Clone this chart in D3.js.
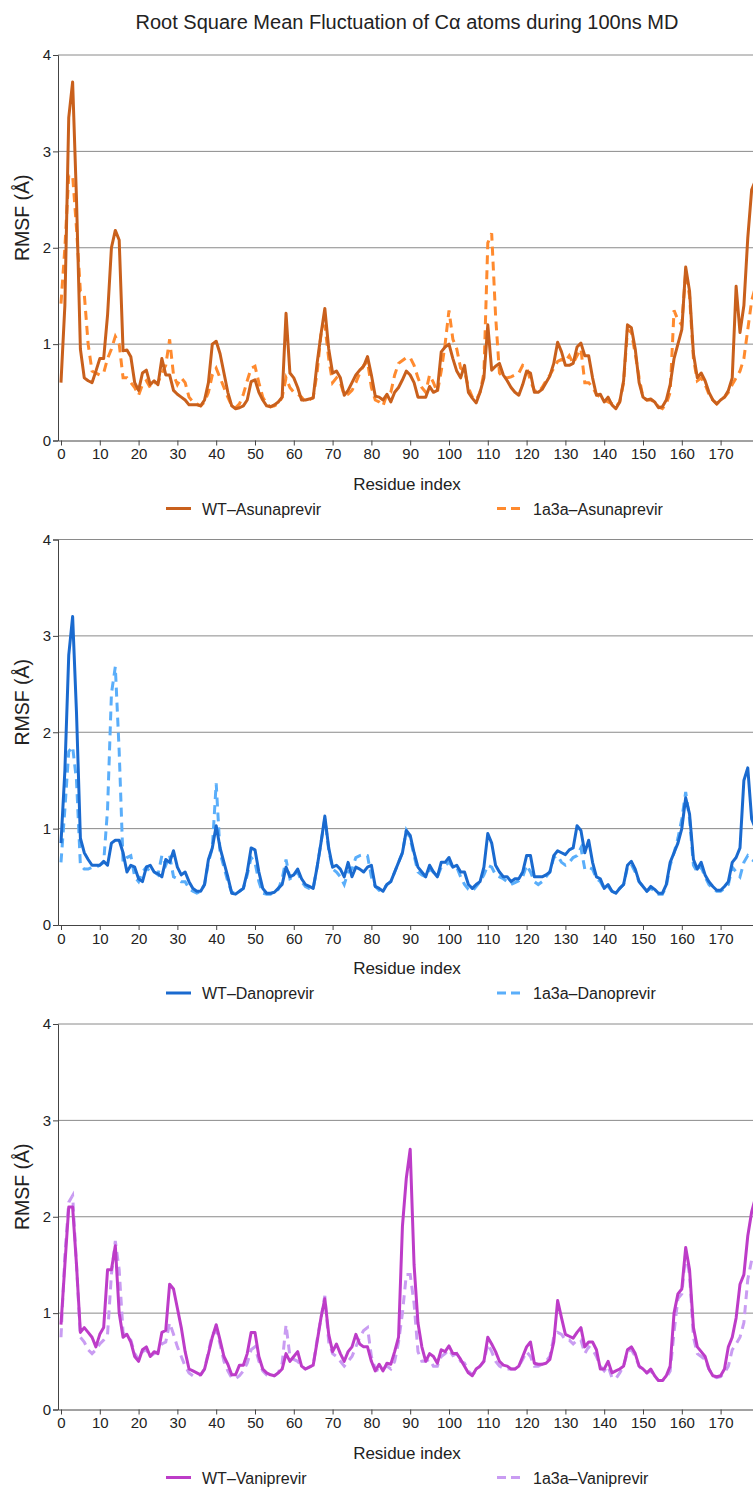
<!DOCTYPE html>
<html>
<head>
<meta charset="utf-8">
<script src="https://cdn.jsdelivr.net/npm/d3@7"></script>
<style>
  body { margin: 0; background: #fff; }
  svg { display: block; font-family: "Liberation Sans", Arial, sans-serif; }
</style>
</head>
<body>
<svg id="chart" width="753" height="1488"></svg>
<script>

// residue values (index 0..179)
var asunWT = [0.60,1.40,3.35,3.72,2.50,0.95,0.65,0.62,0.60,0.72,0.85,0.85,1.30,2.00,2.18,2.08,0.93,0.94,0.87,0.60,
  0.52,0.70,0.73,0.58,0.62,0.58,0.85,0.68,0.68,0.52,0.48,0.45,0.42,0.37,0.37,0.37,0.36,0.42,0.60,1.00,
  1.03,0.90,0.70,0.50,0.36,0.33,0.34,0.36,0.42,0.61,0.63,0.50,0.42,0.36,0.35,0.37,0.40,0.45,1.32,0.70,
  0.65,0.55,0.42,0.42,0.43,0.44,0.80,1.10,1.37,0.95,0.70,0.72,0.65,0.47,0.52,0.60,0.68,0.73,0.77,0.87,
  0.68,0.46,0.45,0.42,0.48,0.40,0.50,0.55,0.63,0.72,0.68,0.60,0.45,0.45,0.45,0.56,0.50,0.52,0.92,0.97,
  1.00,0.85,0.72,0.65,0.78,0.50,0.44,0.39,0.50,0.65,1.20,0.73,0.77,0.80,0.68,0.62,0.55,0.50,0.47,0.58,
  0.72,0.70,0.50,0.50,0.53,0.60,0.67,0.80,1.02,0.92,0.78,0.78,0.80,0.97,1.01,0.88,0.88,0.65,0.47,0.48,
  0.40,0.45,0.37,0.33,0.40,0.62,1.20,1.17,0.95,0.60,0.45,0.42,0.43,0.40,0.34,0.35,0.42,0.58,0.85,1.00,
  1.15,1.80,1.55,0.90,0.65,0.70,0.62,0.50,0.42,0.38,0.42,0.45,0.52,0.65,1.60,1.12,1.40,2.10,2.60,2.70];
var asun1a3a = [1.42,2.00,2.75,2.75,2.20,1.55,1.52,1.00,0.72,0.70,0.68,0.70,0.85,0.95,1.08,1.00,0.65,0.65,0.60,0.55,
  0.47,0.58,0.62,0.55,0.60,0.60,0.70,0.78,1.05,0.68,0.58,0.65,0.60,0.45,0.40,0.38,0.36,0.40,0.50,0.68,
  0.75,0.65,0.55,0.45,0.36,0.34,0.38,0.48,0.62,0.75,0.77,0.60,0.45,0.38,0.35,0.36,0.38,0.45,0.65,0.55,
  0.50,0.48,0.45,0.40,0.42,0.45,0.70,1.10,1.20,0.85,0.60,0.65,0.60,0.47,0.48,0.52,0.60,0.70,0.78,0.82,
  0.55,0.42,0.40,0.36,0.48,0.50,0.68,0.80,0.83,0.86,0.86,0.78,0.65,0.55,0.50,0.68,0.60,0.50,0.72,1.00,
  1.35,1.05,0.95,0.75,0.72,0.55,0.45,0.42,0.50,0.70,2.05,2.15,1.30,0.70,0.65,0.65,0.66,0.68,0.70,0.78,
  0.76,0.62,0.52,0.50,0.55,0.62,0.68,0.75,0.82,0.84,0.82,0.88,0.80,0.88,0.95,0.60,0.60,0.55,0.48,0.45,
  0.42,0.40,0.38,0.35,0.40,0.60,1.15,1.12,0.90,0.65,0.45,0.42,0.42,0.40,0.35,0.33,0.38,0.50,1.35,1.25,
  1.20,1.75,1.50,0.85,0.62,0.65,0.58,0.48,0.42,0.38,0.42,0.45,0.50,0.58,0.65,0.72,0.85,1.15,1.45,1.60];

var danoWT = [0.85,1.60,2.80,3.20,2.20,0.90,0.75,0.68,0.62,0.62,0.62,0.66,0.62,0.85,0.88,0.88,0.75,0.55,0.62,0.60,
  0.48,0.45,0.60,0.62,0.55,0.53,0.50,0.68,0.65,0.77,0.60,0.52,0.55,0.45,0.38,0.35,0.35,0.42,0.68,0.80,
  1.03,0.80,0.65,0.50,0.33,0.32,0.35,0.38,0.55,0.80,0.78,0.55,0.38,0.33,0.33,0.34,0.38,0.42,0.60,0.50,
  0.52,0.58,0.48,0.42,0.40,0.38,0.60,0.85,1.13,0.80,0.60,0.62,0.58,0.50,0.65,0.50,0.60,0.58,0.55,0.60,
  0.62,0.40,0.38,0.35,0.42,0.45,0.55,0.65,0.75,0.98,0.93,0.75,0.60,0.55,0.50,0.62,0.55,0.50,0.65,0.65,
  0.70,0.60,0.62,0.55,0.55,0.42,0.38,0.42,0.45,0.60,0.95,0.85,0.62,0.55,0.50,0.50,0.45,0.48,0.48,0.55,
  0.72,0.72,0.50,0.50,0.50,0.52,0.55,0.72,0.77,0.75,0.73,0.78,0.80,1.03,0.98,0.75,0.88,0.65,0.50,0.48,
  0.38,0.42,0.35,0.33,0.38,0.42,0.62,0.66,0.58,0.45,0.40,0.35,0.40,0.37,0.33,0.33,0.42,0.65,0.75,0.85,
  1.00,1.32,1.15,0.68,0.58,0.65,0.52,0.45,0.40,0.36,0.36,0.40,0.45,0.65,0.70,0.80,1.50,1.63,1.10,1.00];
var dano1a3a = [0.65,1.20,1.80,1.85,1.50,0.62,0.58,0.58,0.60,0.60,0.62,0.65,1.20,2.40,2.68,1.80,0.65,0.70,0.72,0.50,
  0.45,0.55,0.60,0.55,0.55,0.52,0.72,0.62,0.72,0.50,0.48,0.45,0.45,0.38,0.35,0.33,0.35,0.42,0.65,0.80,
  1.47,0.75,0.60,0.45,0.34,0.33,0.35,0.38,0.52,0.70,0.65,0.45,0.33,0.32,0.32,0.34,0.37,0.48,0.68,0.48,
  0.50,0.55,0.45,0.40,0.38,0.38,0.60,0.85,1.10,0.78,0.58,0.55,0.50,0.42,0.55,0.58,0.70,0.72,0.73,0.72,
  0.50,0.40,0.36,0.37,0.42,0.45,0.55,0.65,0.75,0.98,0.90,0.72,0.55,0.52,0.50,0.58,0.55,0.50,0.60,0.62,
  0.65,0.60,0.60,0.50,0.42,0.37,0.35,0.40,0.45,0.52,0.62,0.60,0.52,0.50,0.48,0.45,0.42,0.44,0.46,0.50,
  0.62,0.55,0.45,0.42,0.45,0.50,0.55,0.70,0.72,0.65,0.62,0.65,0.70,0.72,0.80,0.58,0.60,0.58,0.48,0.45,
  0.38,0.40,0.35,0.33,0.38,0.42,0.60,0.63,0.55,0.45,0.40,0.35,0.38,0.35,0.32,0.32,0.40,0.62,0.75,0.90,
  1.10,1.38,1.10,0.62,0.55,0.60,0.50,0.42,0.38,0.35,0.35,0.38,0.42,0.60,0.55,0.50,0.65,0.72,0.68,0.65];

var vaniWT = [0.88,1.50,2.10,2.10,1.50,0.80,0.85,0.80,0.75,0.65,0.78,0.85,1.45,1.45,1.70,1.00,0.75,0.78,0.70,0.55,
  0.50,0.62,0.65,0.55,0.60,0.58,0.80,0.82,1.30,1.25,1.05,0.85,0.60,0.42,0.40,0.38,0.36,0.42,0.58,0.75,
  0.88,0.72,0.55,0.47,0.36,0.36,0.46,0.46,0.58,0.80,0.80,0.55,0.42,0.38,0.36,0.35,0.38,0.42,0.58,0.50,
  0.55,0.60,0.45,0.42,0.44,0.46,0.70,0.95,1.15,0.78,0.60,0.68,0.58,0.50,0.60,0.65,0.78,0.68,0.65,0.65,
  0.50,0.40,0.47,0.40,0.48,0.47,0.60,0.75,1.90,2.40,2.70,1.50,0.90,0.65,0.50,0.58,0.55,0.48,0.62,0.60,
  0.66,0.58,0.58,0.52,0.45,0.38,0.35,0.42,0.45,0.50,0.75,0.68,0.60,0.50,0.46,0.45,0.42,0.42,0.45,0.55,
  0.65,0.70,0.48,0.47,0.47,0.48,0.52,0.70,1.13,0.95,0.78,0.76,0.74,0.80,0.85,0.65,0.70,0.70,0.62,0.42,
  0.42,0.50,0.38,0.40,0.42,0.45,0.62,0.65,0.58,0.45,0.42,0.38,0.42,0.35,0.30,0.30,0.35,0.45,1.00,1.20,
  1.25,1.68,1.45,0.85,0.65,0.60,0.55,0.42,0.35,0.34,0.35,0.42,0.65,0.75,0.95,1.30,1.40,1.80,2.05,2.20];
var vani1a3a = [0.75,1.60,2.15,2.22,1.50,0.75,0.70,0.62,0.58,0.62,0.68,0.72,0.78,1.40,1.75,1.45,0.80,0.75,0.72,0.58,
  0.52,0.60,0.62,0.55,0.58,0.60,0.68,0.70,0.90,0.78,0.65,0.55,0.45,0.38,0.35,0.35,0.36,0.42,0.60,0.78,
  0.82,0.68,0.50,0.40,0.33,0.32,0.35,0.40,0.48,0.62,0.65,0.50,0.40,0.36,0.35,0.35,0.38,0.48,0.88,0.55,
  0.52,0.50,0.45,0.42,0.44,0.46,0.72,0.95,1.18,0.70,0.58,0.55,0.50,0.45,0.50,0.55,0.65,0.75,0.82,0.85,
  0.55,0.42,0.40,0.42,0.45,0.42,0.50,0.70,1.00,1.40,1.40,1.10,0.60,0.50,0.50,0.52,0.45,0.45,0.55,0.58,
  0.62,0.56,0.58,0.50,0.48,0.40,0.36,0.40,0.45,0.50,0.68,0.60,0.50,0.45,0.43,0.42,0.42,0.42,0.45,0.52,
  0.60,0.55,0.45,0.45,0.47,0.50,0.55,0.75,0.80,0.78,0.72,0.72,0.68,0.72,0.72,0.58,0.65,0.62,0.55,0.45,
  0.40,0.45,0.33,0.32,0.38,0.45,0.60,0.62,0.55,0.45,0.40,0.38,0.40,0.35,0.30,0.30,0.33,0.40,0.80,1.15,
  1.20,1.62,1.40,0.75,0.58,0.55,0.52,0.42,0.35,0.33,0.34,0.38,0.45,0.62,0.68,0.75,0.90,1.35,1.55,1.60];

var xTicks = d3.range(0, 171, 10);
var yTicks = [0, 1, 2, 3, 4];

var panels = [
  { top: 55,   wt: asunWT, mut: asun1a3a, wtName: "WT\u2013Asunaprevir", mutName: "1a3a\u2013Asunaprevir", wtColor: "#C9601C", mutColor: "#FF8A2E" },
  { top: 539.5, wt: danoWT, mut: dano1a3a, wtName: "WT\u2013Danoprevir", mutName: "1a3a\u2013Danoprevir", wtColor: "#1A6ACF", mutColor: "#5AAEFA" },
  { top: 1024, wt: vaniWT, mut: vani1a3a, wtName: "WT\u2013Vaniprevir", mutName: "1a3a\u2013Vaniprevir", wtColor: "#BD3CC8", mutColor: "#C99CF2" }
];

var svg = d3.select("#chart");
var plotH = 385.5;
var left = 58, right = 753;

svg.append("text")
    .attr("x", 407).attr("y", 29)
    .attr("text-anchor", "middle")
    .style("font-size", "20px")
    .attr("fill", "#222")
    .text("Root Square Mean Fluctuation of C\u03b1 atoms during 100ns MD");

var x = d3.scaleLinear().domain([-0.77, 178.35]).range([left, right]);

panels.forEach(function(p) {
    var y = d3.scaleLinear().domain([0, 4]).range([p.top + plotH, p.top]);
    var g = svg.append("g");

    // grid
    g.selectAll(".grid").data(yTicks.slice(1)).enter().append("line")
        .attr("x1", left).attr("x2", right)
        .attr("y1", d => y(d)).attr("y2", d => y(d))
        .attr("stroke", "#8a8a8a").attr("stroke-width", 1);

    var yAxis = g.append("g")
        .attr("transform", "translate(" + left + ",0)")
        .call(d3.axisLeft(y).tickValues(yTicks).tickSize(5).tickPadding(2).tickFormat(d3.format("d")));
    var xAxis = g.append("g")
        .attr("transform", "translate(0," + y(0) + ")")
        .call(d3.axisBottom(x).tickValues(xTicks).tickSize(5).tickSizeOuter(0).tickPadding(3));
    [yAxis, xAxis].forEach(function(a) {
        a.selectAll("path, line").attr("stroke", "#444");
        a.selectAll("text").style("font-size", "15px").attr("fill", "#222").style("font-family", "Liberation Sans, Arial, sans-serif");
    });

    var line = d3.line().x((d, i) => x(i)).y(d => y(d));

    g.append("path").datum(p.mut)
        .attr("d", line).attr("fill", "none")
        .attr("stroke", p.mutColor).attr("stroke-width", 3)
        .attr("stroke-dasharray", "9,6");
    g.append("path").datum(p.wt)
        .attr("d", line).attr("fill", "none")
        .attr("stroke", p.wtColor).attr("stroke-width", 3)
        .attr("stroke-linejoin", "round");

    // axis titles
    g.append("text")
        .attr("transform", "translate(29," + (p.top + plotH / 2 - 30) + ") rotate(-90)")
        .attr("text-anchor", "middle")
        .style("font-size", "19.5px").attr("fill", "#222")
        .text("RMSF (\u00c5)");
    g.append("text")
        .attr("x", 407).attr("y", y(0) + 49)
        .attr("text-anchor", "middle")
        .style("font-size", "17px").attr("fill", "#222")
        .text("Residue index");

    // legend
    var ly = y(0) + 68;
    var items = [
        { name: p.wtName, color: p.wtColor, dash: null, x: 166 },
        { name: p.mutName, color: p.mutColor, dash: "9,5", x: 497 }
    ];
    items.forEach(function(it) {
        g.append("line")
            .attr("x1", it.x).attr("x2", it.x + 25)
            .attr("y1", ly).attr("y2", ly)
            .attr("stroke", it.color).attr("stroke-width", 3)
            .attr("stroke-dasharray", it.dash);
        g.append("text")
            .attr("x", it.x + 36).attr("y", ly + 6)
            .style("font-size", "16px").attr("fill", "#222")
            .text(it.name);
    });
});
</script>
</body>
</html>
